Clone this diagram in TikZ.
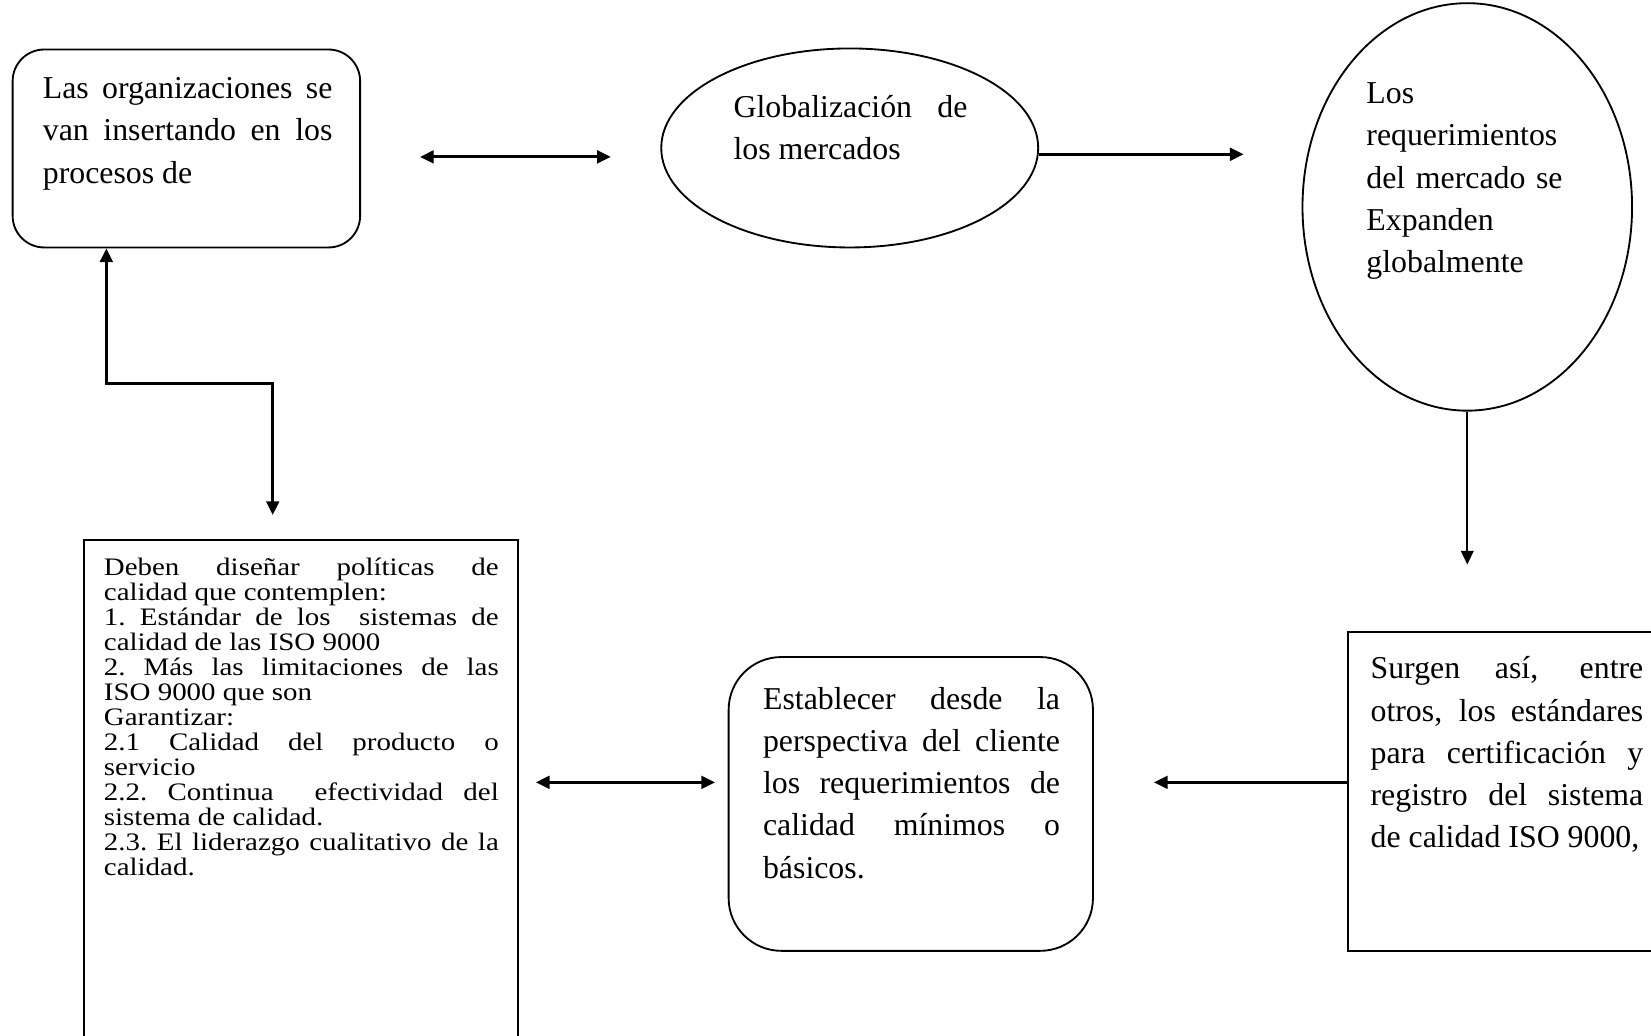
\documentclass[tikz,border=0pt]{standalone}
\usepackage{fontspec}
\setmainfont{Liberation Serif}
\newfontfamily\polfont[FakeStretch=1.15]{Liberation Serif}
\usetikzlibrary{arrows.meta,shapes.geometric,positioning}

\begin{document}
\begin{tikzpicture}[
    rbox/.style={draw, line width=0.5pt, inner sep=0pt, rounded corners=#1},
    rbox/.default=0.3cm,
    sbox/.style={draw, line width=0.5pt, inner sep=0pt},
    oval/.style={draw, ellipse, line width=0.5pt, inner sep=0pt},
    txt/.style={anchor=north west, inner sep=0pt, align=justify, font=\fontsize{8.6}{11.4}\selectfont},
    smalltxt/.style={anchor=north west, inner sep=0pt, align=justify, font=\polfont\fontsize{6.8}{6.76}\selectfont\frenchspacing},
    arr/.style={-{Triangle[length=0.13cm,width=0.12cm]}, line width=0.8pt},
    dbl/.style={{Triangle[length=0.13cm,width=0.12cm]}-{Triangle[length=0.13cm,width=0.12cm]}, line width=0.8pt}
]
\clip (0,0) rectangle (15.68,-9.83);

\node[rbox, minimum width=3.30cm, minimum height=1.88cm] (org) at (1.77,-1.41) {};
\node[oval, minimum width=3.58cm, minimum height=1.89cm] (glob) at (8.07,-1.405) {};
\node[oval, minimum width=3.13cm, minimum height=3.87cm] (req) at (13.935,-1.965) {};
\node[sbox, minimum width=3.10cm, minimum height=3.03cm] (surg) at (14.35,-7.515) {};
\node[rbox=0.5cm, minimum width=3.46cm, minimum height=2.79cm] (estab) at (8.65,-7.635) {};
\node[sbox, minimum width=4.12cm, minimum height=4.87cm] (pol) at (2.86,-7.565) {};

\node[txt, text width=2.75cm] (orgtxt) at (0.40,-0.73) {Las organizaciones se\linebreak van insertando en los\linebreak procesos de};
\node[txt, text width=2.22cm] (globtxt) at (6.96,-0.90) {Globalización de\linebreak los mercados};
\node[txt, text width=1.95cm, align=left] (reqtxt) at (12.97,-0.78) {Los\\requerimientos\\del mercado se\\Expanden\\globalmente};
\node[txt, text width=2.59cm] (surgtxt) at (13.01,-6.23) {Surgen así, entre\linebreak otros, los estándares\linebreak para certificación y\linebreak registro del sistema\linebreak de calidad ISO 9000,};
\node[txt, text width=2.82cm] (estabtxt) at (7.24,-6.52) {Establecer desde la\linebreak perspectiva del cliente\linebreak los requerimientos de\linebreak calidad mínimos o\linebreak básicos.};
\node[smalltxt, text width=3.75cm] (poltxt) at (0.98,-5.29) {Deben diseñar políticas de\linebreak calidad que contemplen:\\
1. Estándar de los\ \ sistemas de\linebreak calidad de las ISO 9000\\
2. Más las limitaciones de las\linebreak ISO 9000 que son\\
Garantizar:\\
2.1 Calidad del producto o\linebreak servicio\\
2.2. Continua\ \ efectividad del\linebreak sistema de calidad.\\
2.3. El liderazgo cualitativo de la\linebreak calidad.};

\draw[dbl, shorten <=0.56cm, shorten >=0.47cm] ([yshift=-0.08cm]org.east) -- ([yshift=-0.08cm]org.east -| glob.west);
\draw[arr, shorten >=0.55cm] ([yshift=-0.06cm]glob.east) -- ([yshift=-0.06cm]glob.east -| req.west);
\draw[arr, line width=0.5pt, shorten >=0.63cm] (req.south) -- (req.south |- surg.north);
\draw[arr, shorten >=0.57cm] ([yshift=0.085cm]surg.west) -- ([yshift=0.085cm]surg.west -| estab.east);
\draw[dbl, shorten <=0.16cm, shorten >=0.12cm] ([yshift=0.205cm]estab.west -| pol.east) -- ([yshift=0.205cm]estab.west);
\draw[dbl, shorten >=0.23cm] ([xshift=-0.76cm]org.south) -- ++(0,-1.28) -| ([xshift=-0.27cm]pol.north);
\end{tikzpicture}
\end{document}
